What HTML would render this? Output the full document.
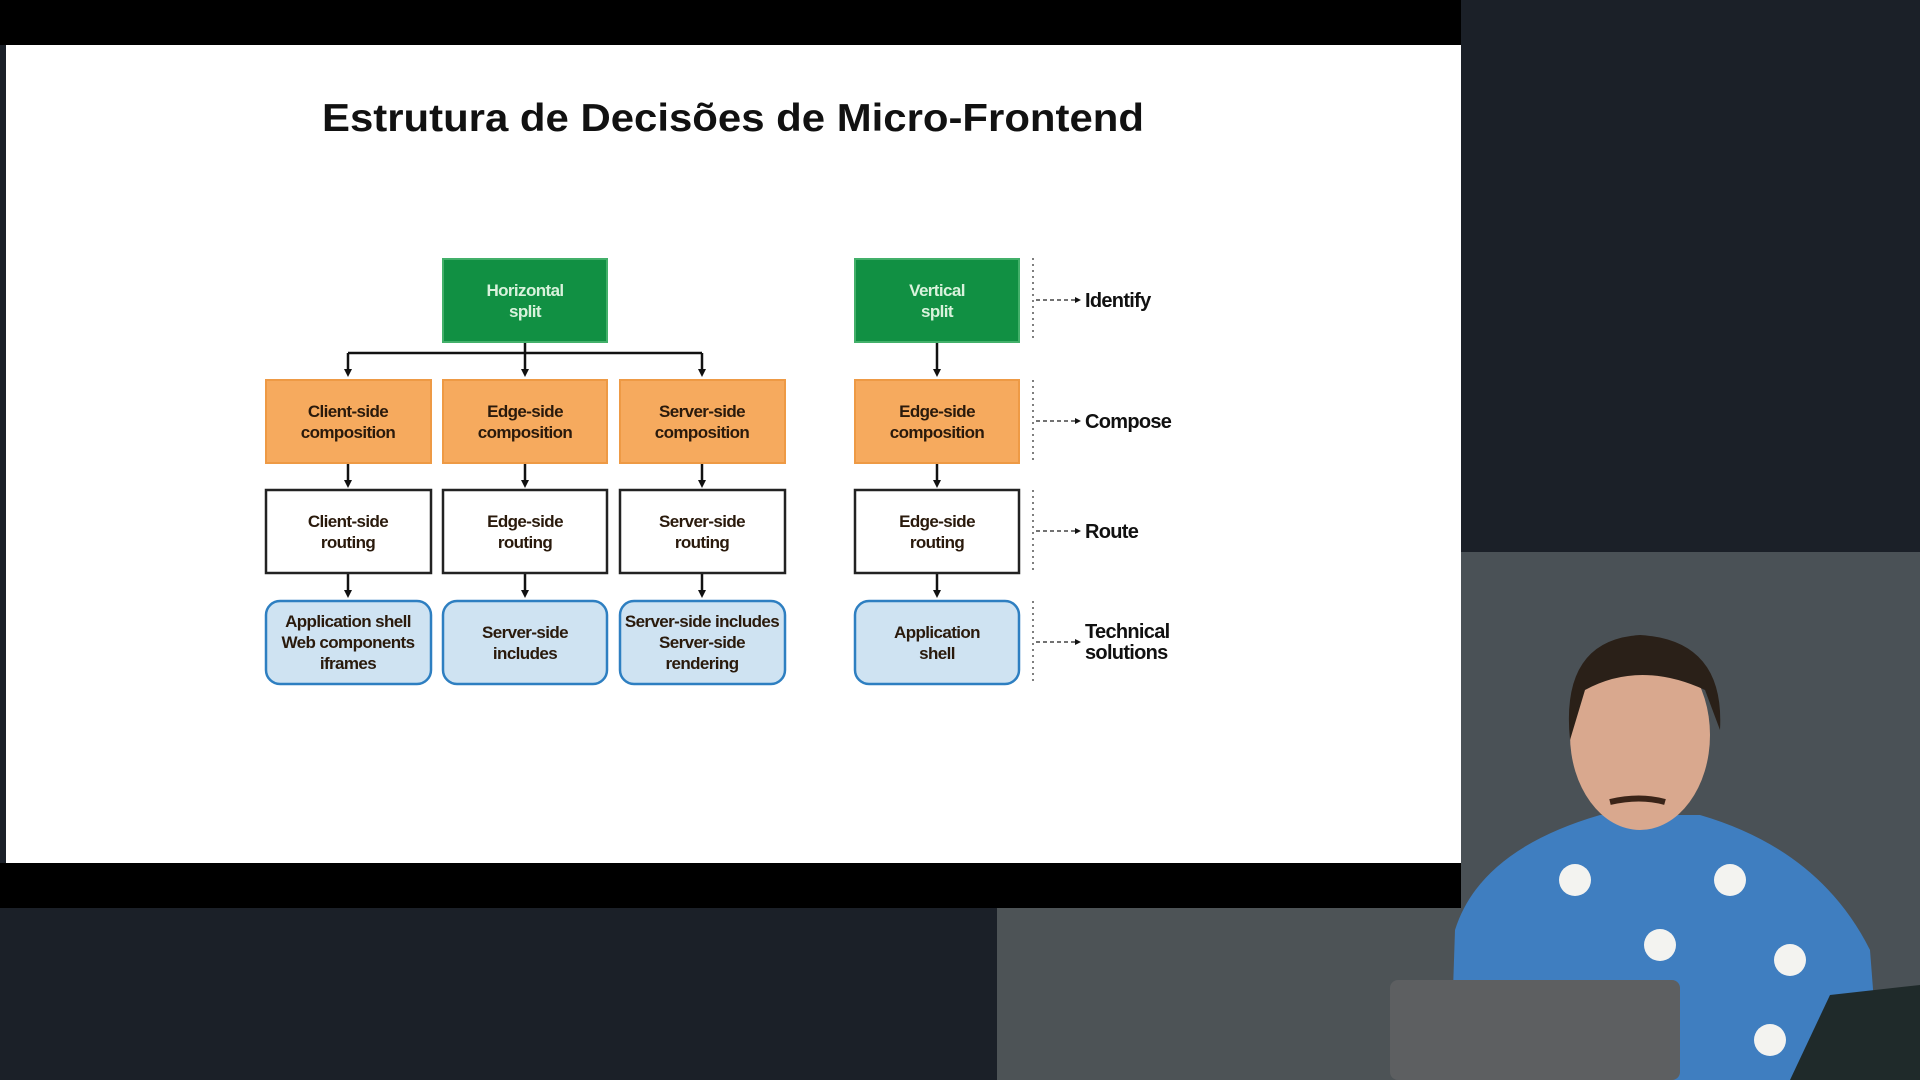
<!DOCTYPE html>
<html><head><meta charset="utf-8"><style>
html,body{margin:0;padding:0;width:1920px;height:1080px;overflow:hidden;background:#1b2028}
svg{display:block}
.b{font-family:"Liberation Sans",sans-serif;font-weight:bold;font-size:17px;text-anchor:middle;letter-spacing:-0.6px}
.l{font-family:"Liberation Sans",sans-serif;font-weight:bold;font-size:20px;letter-spacing:-0.7px;fill:#111}
</style></head><body>
<svg width="1920" height="1080" viewBox="0 0 1920 1080" xmlns="http://www.w3.org/2000/svg">
<defs><marker id="a" markerWidth="8" markerHeight="8" refX="4" refY="4" orient="auto" markerUnits="userSpaceOnUse"><path d="M0,0 L8,4 L0,8 z" fill="#111"/></marker>
<marker id="s" markerWidth="6" markerHeight="6" refX="3" refY="3" orient="auto" markerUnits="userSpaceOnUse"><path d="M0,0 L6,3 L0,6 z" fill="#111"/></marker></defs>
<rect width="1920" height="1080" fill="#1b2028"/>
<rect x="1461" y="552" width="459" height="528" fill="#4a5156"/>
<rect x="997" y="908" width="464" height="172" fill="#4d5356"/>
<rect x="0" y="0" width="1461" height="45" fill="#000"/>
<rect x="0" y="863" width="1461" height="45" fill="#000"/>
<rect x="6" y="45" width="1455" height="818" fill="#fff"/>
<path d="M1450,1080 L1455,930 Q1480,850 1600,815 L1700,815 Q1820,850 1870,950 L1880,1080 z" fill="#3f7ec0"/>
<ellipse cx="1640" cy="735" rx="70" ry="95" fill="#d9a88e"/>
<path d="M1570,740 Q1560,640 1640,635 Q1725,640 1720,730 L1705,690 Q1640,660 1585,690 z" fill="#2a2018"/>
<path d="M1610,802 Q1640,795 1665,802" stroke="#3a2418" stroke-width="6" fill="none"/>
<circle cx="1575" cy="880" r="16" fill="#f3f3f0"/><circle cx="1730" cy="880" r="16" fill="#f3f3f0"/><circle cx="1660" cy="945" r="16" fill="#f3f3f0"/><circle cx="1790" cy="960" r="16" fill="#f3f3f0"/><circle cx="1520" cy="1000" r="16" fill="#f3f3f0"/><circle cx="1770" cy="1040" r="16" fill="#f3f3f0"/>
<rect x="1390" y="980" width="290" height="100" rx="8" fill="#5d5f61"/>
<path d="M1790,1080 L1830,995 L1920,985 L1920,1080 z" fill="#1f2a2a"/>
<text x="733" y="131" font-family="Liberation Sans,sans-serif" font-weight="bold" font-size="39" text-anchor="middle" textLength="822" lengthAdjust="spacingAndGlyphs" fill="#111">Estrutura de Decisões de Micro-Frontend</text>
<g stroke="#111" stroke-width="2.5" fill="none">
<path d="M525,342 V353 M348,353 H702"/>
<path d="M348,353 V373" marker-end="url(#a)"/><path d="M525,353 V373" marker-end="url(#a)"/><path d="M702,353 V373" marker-end="url(#a)"/>
<path d="M348,463 V484" marker-end="url(#a)"/><path d="M525,463 V484" marker-end="url(#a)"/><path d="M702,463 V484" marker-end="url(#a)"/>
<path d="M348,573 V594" marker-end="url(#a)"/><path d="M525,573 V594" marker-end="url(#a)"/><path d="M702,573 V594" marker-end="url(#a)"/>
<path d="M937,342 V373" marker-end="url(#a)"/><path d="M937,463 V484" marker-end="url(#a)"/><path d="M937,573 V594" marker-end="url(#a)"/>
</g>
<g>
<rect x="443" y="259" width="164" height="83" fill="#119043" stroke="#43b06a" stroke-width="2"/>
<rect x="855" y="259" width="164" height="83" fill="#119043" stroke="#43b06a" stroke-width="2"/>
<g fill="#f6aa5e" stroke="#ee9a45" stroke-width="2">
<rect x="266" y="380" width="165" height="83"/><rect x="443" y="380" width="164" height="83"/><rect x="620" y="380" width="165" height="83"/><rect x="855" y="380" width="164" height="83"/></g>
<g fill="#fff" stroke="#222" stroke-width="2.5">
<rect x="266" y="490" width="165" height="83"/><rect x="443" y="490" width="164" height="83"/><rect x="620" y="490" width="165" height="83"/><rect x="855" y="490" width="164" height="83"/></g>
<g fill="#cfe3f2" stroke="#2e7fc1" stroke-width="2.5">
<rect x="266" y="601" width="165" height="83" rx="14"/><rect x="443" y="601" width="164" height="83" rx="14"/><rect x="620" y="601" width="165" height="83" rx="14"/><rect x="855" y="601" width="164" height="83" rx="14"/></g>
</g>
<g class="b" fill="#d9f2dc"><text x="525" y="296">Horizontal</text><text x="525" y="317">split</text>
<text x="937" y="296">Vertical</text><text x="937" y="317">split</text></g>
<g class="b" fill="#2a1a0c">
<text x="348" y="417">Client-side</text><text x="348" y="438">composition</text>
<text x="525" y="417">Edge-side</text><text x="525" y="438">composition</text>
<text x="702" y="417">Server-side</text><text x="702" y="438">composition</text>
<text x="937" y="417">Edge-side</text><text x="937" y="438">composition</text>
<text x="348" y="527">Client-side</text><text x="348" y="548">routing</text>
<text x="525" y="527">Edge-side</text><text x="525" y="548">routing</text>
<text x="702" y="527">Server-side</text><text x="702" y="548">routing</text>
<text x="937" y="527">Edge-side</text><text x="937" y="548">routing</text>
<text x="348" y="627">Application shell</text><text x="348" y="648">Web components</text><text x="348" y="669">iframes</text>
<text x="525" y="638">Server-side</text><text x="525" y="659">includes</text>
<text x="702" y="627">Server-side includes</text><text x="702" y="648">Server-side</text><text x="702" y="669">rendering</text>
<text x="937" y="638">Application</text><text x="937" y="659">shell</text>
</g>
<g stroke="#555" stroke-width="1.5" stroke-dasharray="2,4" fill="none">
<path d="M1033,258 V342 M1033,380 V463 M1033,490 V573 M1033,601 V684"/></g>
<g stroke="#444" stroke-width="1.5" stroke-dasharray="4,3" fill="none">
<path d="M1036,300 H1078" marker-end="url(#s)"/><path d="M1036,421 H1078" marker-end="url(#s)"/><path d="M1036,531 H1078" marker-end="url(#s)"/><path d="M1036,642 H1078" marker-end="url(#s)"/></g>
<text class="l" x="1085" y="307">Identify</text>
<text class="l" x="1085" y="428">Compose</text>
<text class="l" x="1085" y="538">Route</text>
<text class="l" x="1085" y="638">Technical</text>
<text class="l" x="1085" y="659">solutions</text>
</svg>
</body></html>
